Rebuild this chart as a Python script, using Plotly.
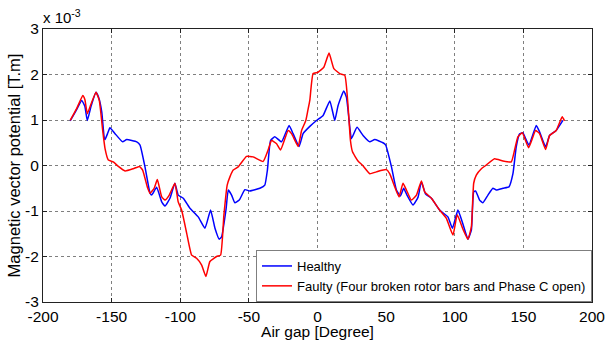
import plotly.graph_objects as go

# Magnetic vector potential along the air gap (values in units of 1e-3 T.m)
healthy_deg = [-180.2, -176, -171.8, -169.5, -167.7, -165, -161.4, -159.5, -157.2, -155.3, -154.8, -153,
               -151.2, -147.5, -142, -139, -131.7, -129.3, -125.7, -122, -120.8, -117.2, -113.5, -111.1,
               -107.5, -103.9, -101.5, -97.8, -92.9, -86.9, -82, -77.9, -74.7, -71.6, -69.9, -66.7, -65,
               -62.6, -60.2, -57, -52.9, -49.3, -42, -38.4, -36.5, -34.2, -31.1, -26.2, -20.7, -17.8, -13.4,
               -10.5, -5.6, -0.7, 4.1, 9, 12.6, 15, 19.1, 21.1, 23.5, 24.7, 28.8, 33.2, 38.1, 41.7, 47.7,
               49.7, 53.9, 57.5, 60.4, 62.8, 65.2, 69.6, 73.2, 75.7, 78.8, 83, 89, 95, 98.3, 102.3, 106,
               109.6, 112.1, 113.8, 115.2, 118.1, 120.5, 124.2, 127.8, 130.3, 135.1, 139.5, 142.4, 144.8,
               147.2, 149.6, 154, 159.4, 161.8, 166.2, 169.1, 173.9, 178.8]
healthy_mvp = [0.98, 1.2, 1.43, 1.3, 0.99, 1.3, 1.61, 1.5, 1.18, 0.59, 0.57, 0.7,
               0.83, 0.70, 0.52, 0.57, 0.52, 0.45, -0.03, -0.61, -0.65, -0.48, -0.8, -0.89,
               -0.72, -0.39, -0.65, -0.72, -0.94, -1.13, -1.38, -0.98, -1.38, -1.62, -1.57, -0.98, -0.54,
               -0.65, -0.82, -0.76, -0.53, -0.56, -0.50, -0.43, -0.1, 0.55, 0.63, 0.52, 0.88, 0.70, 0.42,
               0.70, 0.86, 0.99, 1.10, 1.42, 0.99, 1.32, 1.64, 1.50, 0.85, 0.59, 0.84, 0.66, 0.52, 0.57, 0.50,
               0.45, -0.03, -0.54, -0.67, -0.50, -0.65, -0.87, -0.70, -0.36, -0.63, -0.72, -0.98, -1.13, -1.38,
               -0.98, -1.29, -1.62, -1.42, -0.58, -0.56, -0.76, -0.82, -0.65, -0.50, -0.54, -0.50, -0.47,
               -0.18, 0.41, 0.69, 0.72, 0.45, 0.88, 0.74, 0.41, 0.66, 0.77, 0.99]

faulty_deg = [-180.2, -175.5, -171, -169.5, -167.7, -165, -161.4, -159, -156.5, -154.8, -152.4, -148.8,
              -145.1, -140.2, -134.2, -129.8, -127.4, -124, -122, -119, -116.7, -113.5, -111.1, -108,
              -103.9, -101.5, -99, -95.3, -91.7, -88.1, -84.4, -81.3, -78.4, -73.5, -70.6, -68.2, -65.8,
              -63.8, -61.4, -57.8, -51.7, -46.9, -39.6, -36, -33.5, -29.8, -26.9, -21.4, -18.9, -14.1,
              -11.6, -8.5, -7.1, -5.6, -3.2, 0.4, 4.6, 8.4, 11.9, 16.2, 19.9, 22.3, 24, 25.5, 29.5, 33,
              38.1, 42.9, 50.2, 52.6, 56.3, 59.4, 62.3, 64.8, 68.4, 72.1, 75.7, 78.1, 83, 89, 93.9, 98.7,
              101.8, 106, 109.6, 112.1, 113.8, 115.7, 119.4, 123, 129, 135.1, 141.2, 143.6, 146, 149.2,
              153.8, 158.9, 161.8, 166.2, 169.1, 173.9, 178.3, 180]
faulty_mvp = [0.99, 1.25, 1.54, 1.45, 1.14, 1.35, 1.61, 1.43, 0.77, 0.37, 0.12, 0.08,
              -0.02, -0.12, -0.07, -0.02, -0.10, -0.47, -0.61, -0.5, -0.31, -0.69, -0.76, -0.65,
              -0.39, -0.80, -0.98, -1.49, -1.97, -2.04, -2.19, -2.44, -2.11, -2.00, -1.97, -1.09, -0.43,
              -0.25, -0.10, -0.03, 0.20, 0.19, 0.09, 0.34, 0.55, 0.48, 0.34, 0.77, 0.70, 0.42,
              0.77, 0.99, 1.2, 1.43, 2.02, 2.05, 2.16, 2.47, 2.13, 2.02, 1.98, 1.29, 0.55, 0.3, 0.10, 0.0,
              -0.18, -0.14, -0.09, -0.18, -0.47, -0.69, -0.39, -0.54, -0.76, -0.65, -0.34, -0.58, -0.72,
              -0.98, -1.16, -1.53, -1.08, -1.40, -1.62, -1.35, -0.39, -0.21, -0.07, 0.01, 0.15, 0.10, 0.08,
              0.34, 0.63, 0.72, 0.39, 0.77, 0.70, 0.35, 0.66, 0.77, 1.07, 0.98]

x_ticks = [-200, -150, -100, -50, 0, 50, 100, 150, 200]
y_ticks = [-3, -2, -1, 0, 1, 2, 3]

FONT = "Liberation Sans"

fig = go.Figure()
fig.add_trace(go.Scatter(x=healthy_deg, y=healthy_mvp, mode="lines", name="Healthy",
                         line=dict(color="#0000FF", width=1.5, shape="spline", smoothing=0.4)))
fig.add_trace(go.Scatter(x=faulty_deg, y=faulty_mvp, mode="lines",
                         name="Faulty (Four broken rotor bars and Phase C open)",
                         line=dict(color="#FF0000", width=1.5, shape="spline", smoothing=0.4)))

axis_common = dict(showgrid=True, gridcolor="#7f7f7f", griddash="dot", gridwidth=1,
                   showline=True, linecolor="#222222", linewidth=1, mirror="ticks",
                   ticks="inside", ticklen=4, tickcolor="#222222", zeroline=False,
                   automargin=False,
                   tickfont=dict(family=FONT, size=15.5, color="black"))

fig.update_xaxes(range=[-200, 200], tickvals=x_ticks, ticktext=[str(v) for v in x_ticks],
                 title=dict(text="Air gap [Degree]", font=dict(family=FONT, size=15.5, color="black"),
                            standoff=0),
                 ticklabelstandoff=0,
                 **axis_common)
fig.update_yaxes(range=[-3, 3], tickvals=y_ticks, ticktext=[str(v) for v in y_ticks],
                 title=dict(text="Magnetic vector potential [T.m]",
                            font=dict(family=FONT, size=16.5, color="black"), standoff=0),
                 **axis_common)

fig.add_annotation(xref="paper", yref="paper", x=0, y=1, xanchor="left", yanchor="bottom",
                   xshift=-2, yshift=1, showarrow=False,
                   text="x 10<sup>-3</sup>", font=dict(family=FONT, size=15, color="black"))

fig.update_layout(
    width=606, height=340,
    margin=dict(l=43, r=14, t=29, b=38),
    paper_bgcolor="white", plot_bgcolor="white",
    font=dict(family=FONT, size=14, color="black"),
    showlegend=True,
    legend=dict(x=1, y=0, xanchor="right", yanchor="bottom", bgcolor="white",
                bordercolor="#7f7f7f", borderwidth=1, tracegroupgap=0,
                font=dict(family=FONT, size=13, color="black")),
)

fig.write_html("out.html")
